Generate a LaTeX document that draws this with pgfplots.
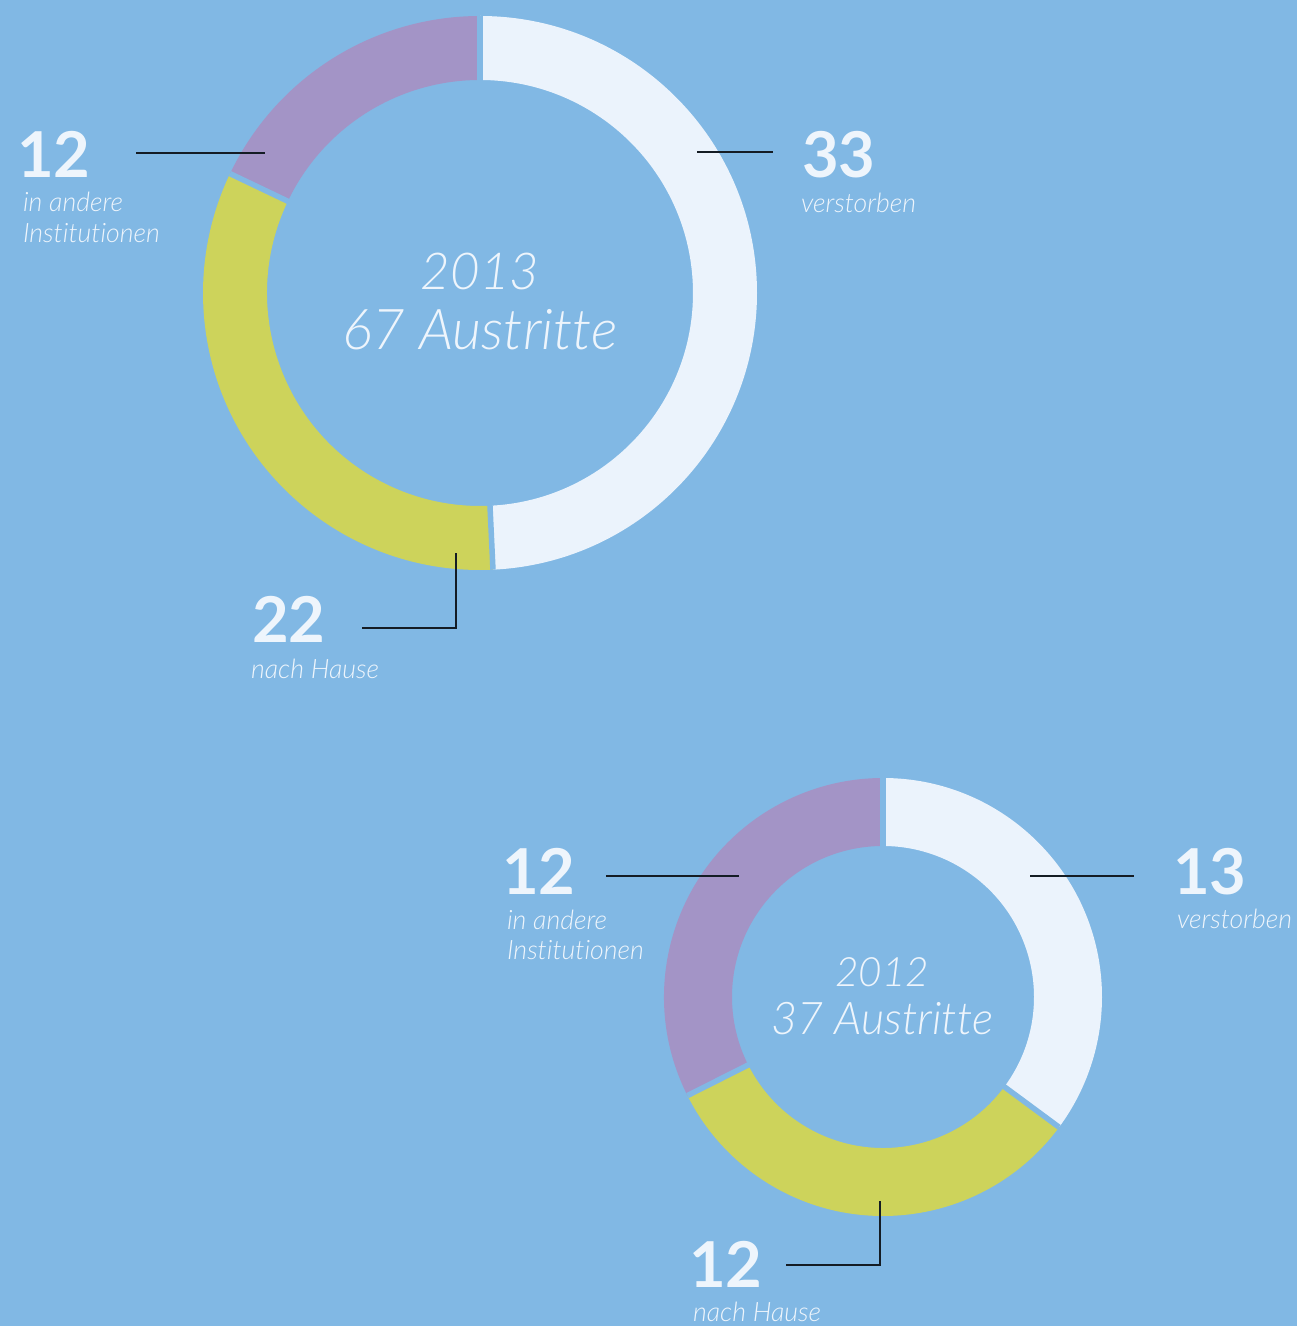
\documentclass[border=0pt]{standalone}
\usepackage{fontspec}
\setmainfont{Lato}[Ligatures=NoCommon]
\newfontfamily\lightfont{Lato Light}[ItalicFont={Lato Light Italic},Ligatures=NoCommon]
\usepackage{pgfplots}
\pgfplotsset{compat=1.18}
\definecolor{bg}{HTML}{81B8E4}
\definecolor{cwhite}{HTML}{EBF3FC}
\definecolor{cgreen}{HTML}{CDD35B}
\definecolor{cpurple}{HTML}{A394C6}
\definecolor{ctext}{HTML}{EEF5FC}
\definecolor{cline}{HTML}{141C24}

% #1 cx, #2 cy (axis units), #3 outer radius, #4 inner radius, #5 total, #6 value/colour list
\newcommand\donut[6]{%
  \gdef\curang{90}%
  \foreach \v/\c in {#6}{%
    \pgfmathsetmacro\segspan{360*\v/#5}%
    \pgfmathsetmacro\endang{\curang-\segspan}%
    \edef\tmp{\noexpand\fill[\c] ([shift={(\curang:#3)}]axis cs:#1,#2) arc[start angle=\curang,end angle=\endang,radius=#3] -- ([shift={(\endang:#4)}]axis cs:#1,#2) arc[start angle=\endang,end angle=\curang,radius=#4] -- cycle;}\tmp
    \xdef\curang{\endang}%
  }%
  \gdef\curang{90}%
  \foreach \v/\c in {#6}{%
    \edef\tmp{\noexpand\draw[bg,line width=0.55mm] (axis cs:#1,#2) -- ([shift={(\curang:#3)}]axis cs:#1,#2);}\tmp
    \pgfmathsetmacro\segspan{360*\v/#5}%
    \pgfmathsetmacro\endang{\curang-\segspan}%
    \xdef\curang{\endang}%
  }%
}
\newcommand\lbl{\fontsize{7.6}{9}\selectfont\lightfont\itshape}
\newcommand\num{\fontsize{18}{22}\selectfont\bfseries}

\begin{document}
\begin{tikzpicture}
\begin{axis}[
  hide axis, x=0.1mm, y=0.1mm,
  xmin=0, xmax=1297, ymin=0, ymax=1326,
  clip=false,
]
\fill[bg] (axis cs:0,0) rectangle (axis cs:1297,1326);

% 2013: verstorben 33, nach Hause 22, in andere Institutionen 12
\donut{480}{1033}{27.7mm}{21.3mm}{67}{33/cwhite,22/cgreen,12/cpurple}
% 2012: verstorben 13, nach Hause 12, in andere Institutionen 12
\donut{883}{329}{21.9mm}{15.1mm}{37}{13/cwhite,12/cgreen,12/cpurple}

\begin{scope}[every node/.style={inner sep=0pt, outer sep=0pt, text=ctext}]
% ---- 2013 ----
\node[anchor=base] at (axis cs:480,1036) {\fontsize{14.5}{19}\selectfont\lightfont\itshape 2013};
\node[anchor=base] at (axis cs:480,976) {\fontsize{16}{19}\selectfont\lightfont\itshape 67 Austritte};

\node[anchor=base west] at (axis cs:17,1148) {\num 12};
\node[anchor=base west] at (axis cs:23,1114) {\lbl in andere};
\node[anchor=base west] at (axis cs:23,1083) {\lbl Institutionen};
\draw[cline, line width=0.4pt] (axis cs:136,1173) -- (axis cs:265,1173);

\node[anchor=base west] at (axis cs:802,1148) {\num 33};
\node[anchor=base west] at (axis cs:801,1113) {\lbl verstorben};
\draw[cline, line width=0.4pt] (axis cs:697,1174) -- (axis cs:773,1174);

\node[anchor=base west] at (axis cs:252,683) {\num 22};
\node[anchor=base west] at (axis cs:251,647) {\lbl nach Hause};
\draw[cline, line width=0.4pt] (axis cs:362,698) -- (axis cs:456,698) -- (axis cs:456,773);

% ---- 2012 ----
\node[anchor=base] at (axis cs:882,339) {\fontsize{11.5}{15}\selectfont\lightfont\itshape 2012};
\node[anchor=base] at (axis cs:882,291) {\fontsize{12.8}{15}\selectfont\lightfont\itshape 37 Austritte};

\node[anchor=base west] at (axis cs:502,431) {\num 12};
\node[anchor=base west] at (axis cs:507,396) {\lbl in andere};
\node[anchor=base west] at (axis cs:507,366) {\lbl Institutionen};
\draw[cline, line width=0.4pt] (axis cs:606,450) -- (axis cs:739,450);

\node[anchor=base west] at (axis cs:1173,431) {\num 13};
\node[anchor=base west] at (axis cs:1177,397) {\lbl verstorben};
\draw[cline, line width=0.4pt] (axis cs:1030,450) -- (axis cs:1134,450);

\node[anchor=base west] at (axis cs:689,38) {\num 12};
\node[anchor=base west] at (axis cs:693,5) {\lbl nach Hause};
\draw[cline, line width=0.4pt] (axis cs:786,61) -- (axis cs:880,61) -- (axis cs:880,125);
\end{scope}
\end{axis}
\end{tikzpicture}
\end{document}
